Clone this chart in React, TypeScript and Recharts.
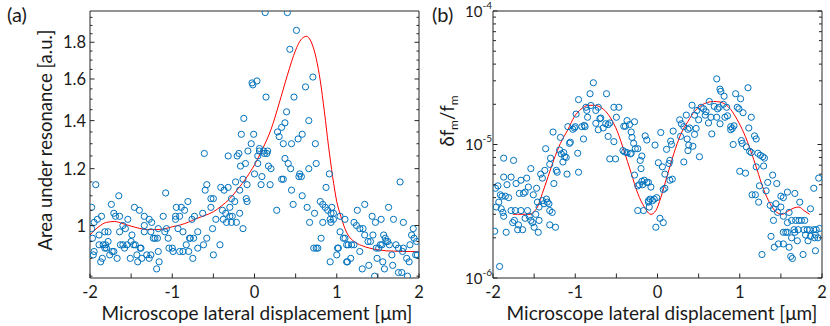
import React from 'react';
import { ComposedChart, Scatter, Line, XAxis, YAxis } from 'recharts';

const FONT = 'Lato, "Open Sans", Arial, sans-serif';
const AXIS = '#262626';
const TEXT = '#1a1a1a';
const BLUE = '#0072BD';
const RED = '#FF0000';

// ---------- shared x axis ----------
const xTicks = [-2, -1.5, -1, -0.5, 0, 0.5, 1, 1.5, 2];
const xMajor = [-2, -1, 0, 1, 2];
const xDomain: [number, number] = [-2, 2];
const xLabel = 'Microscope lateral displacement [\u03bcm]';

// ---------- panel (a) ----------
const aYDomain: [number, number] = [0.845, 1.99];
const aYTicks = [0.85, 0.9, 0.95, 1, 1.05, 1.1, 1.15, 1.2, 1.25, 1.3, 1.35, 1.4, 1.45, 1.5, 1.55, 1.6, 1.65, 1.7, 1.75, 1.8, 1.85, 1.9, 1.95];
const aYMajor = [1, 1.2, 1.4, 1.6, 1.8];
const aYLabel = 'Area under resonance [a.u.]';

const aMeasured: [number, number][] = [
  [-1.98, 1.06], [-1.93, 1.14], [-1.98, 0.99], [-1.95, 1.01], [-1.91, 1.02], [-1.86, 1.03], [-1.97, 0.96], [-1.95, 0.92],
  [-1.96, 0.91], [-1.87, 0.89], [-1.85, 0.9], [-1.82, 0.98], [-1.78, 0.98], [-1.89, 0.97], [-1.89, 0.94], [-1.84, 0.94],
  [-1.81, 0.94], [-1.78, 0.95], [-1.82, 0.93], [-1.8, 0.93], [-1.76, 0.91], [-1.73, 0.92], [-1.71, 0.92], [-1.74, 1.07],
  [-1.71, 1.04], [-1.69, 1.03], [-1.67, 0.9], [-1.65, 1.1], [-1.64, 1.03], [-1.63, 0.94], [-1.6, 0.94], [-1.58, 0.93],
  [-1.55, 0.94], [-1.64, 0.98], [-1.6, 1.0], [-1.57, 0.99], [-1.54, 1.02], [-1.51, 0.9], [-1.49, 0.97], [-1.5, 0.95],
  [-1.46, 1.06], [-1.47, 0.94], [-1.45, 0.94], [-1.43, 0.91], [-1.42, 0.89], [-1.4, 1.05], [-1.39, 0.93], [-1.38, 0.93],
  [-1.37, 0.9], [-1.34, 1.0], [-1.34, 0.98], [-1.34, 1.03], [-1.31, 0.91], [-1.28, 0.9], [-1.26, 0.91], [-1.28, 1.02],
  [-1.25, 1.01], [-1.26, 0.98], [-1.23, 0.96], [-1.21, 0.96], [-1.18, 0.96], [-1.17, 0.99], [-1.17, 0.92], [-1.16, 0.89],
  [-1.19, 0.87], [-1.11, 1.03], [-1.09, 0.98], [-1.07, 0.99], [-1.08, 1.11], [-1.05, 0.96], [-1.04, 0.93], [-1.0, 0.93],
  [-0.99, 0.92], [-0.96, 1.03], [-0.96, 1.02], [-0.95, 1.06], [-0.89, 1.06], [-0.93, 0.99], [-0.91, 1.03], [-0.87, 0.98],
  [-0.85, 1.05], [-0.81, 1.08], [-0.91, 0.92], [-0.87, 0.92], [-0.83, 0.94], [-0.79, 0.96], [-0.78, 0.96], [-0.8, 0.92],
  [-0.76, 1.02], [-0.75, 0.9], [-0.73, 1.03], [-0.74, 0.96], [-0.69, 0.98], [-0.69, 0.93],
  [-0.63, 1.04], [-0.61, 1.26], [-0.6, 1.12], [-0.58, 1.14], [-0.58, 0.96], [-0.62, 0.94], [-0.53, 1.09], [-0.5, 1.09],
  [-0.53, 1.06], [-0.51, 0.99], [-0.5, 0.91], [-0.47, 1.02], [-0.42, 0.94], [-0.41, 1.13], [-0.39, 1.05], [-0.37, 1.12],
  [-0.38, 1.02], [-0.35, 1.04], [-0.34, 1.01], [-0.32, 1.13], [-0.32, 1.25], [-0.3, 1.03], [-0.3, 1.06], [-0.28, 1.09],
  [-0.28, 1.01], [-0.27, 1.03], [-0.24, 1.08], [-0.23, 1.15], [-0.21, 1.25], [-0.19, 1.26], [-0.22, 1.01], [-0.18, 1.12],
  [-0.18, 1.04], [-0.17, 1.21], [-0.16, 1.34], [-0.14, 0.99], [-0.13, 1.41], [-0.14, 1.16], [-0.11, 1.22], [-0.1, 1.09],
  [-0.09, 1.14], [-0.09, 1.08], [-0.08, 1.27], [-0.04, 1.3], [-0.03, 1.58], [-0.02, 1.57], [-0.01, 1.34], [0.0, 1.18],
  [0.03, 1.59], [0.04, 1.22], [0.04, 1.25], [0.06, 1.27], [0.06, 1.28], [0.09, 1.17], [0.08, 1.14], [0.11, 1.27], [0.12, 1.26],
  [0.13, 1.98], [0.4, 1.98], [0.51, 1.87], [0.43, 1.76], [0.71, 1.61], [0.62, 1.56], [0.14, 1.51], [0.48, 1.51],
  [0.39, 1.44], [0.66, 1.4], [0.37, 1.39], [0.33, 1.37], [0.58, 1.34], [0.28, 1.35], [0.3, 1.33], [0.35, 1.3],
  [0.45, 1.3], [0.53, 1.32], [0.74, 1.3], [0.15, 1.26], [0.16, 1.27], [0.37, 1.24], [0.41, 1.22], [0.75, 1.22],
  [0.17, 1.21], [0.2, 1.2], [0.66, 1.2], [0.44, 1.2], [0.55, 1.18], [0.54, 1.17], [0.57, 1.17], [0.91, 1.18],
  [0.33, 1.16], [0.35, 1.16], [0.19, 1.14], [0.87, 1.13], [0.45, 1.12], [0.58, 1.1], [0.8, 1.08], [0.83, 1.07],
  [0.86, 1.06], [0.27, 1.05], [0.47, 1.07], [0.64, 1.06], [0.73, 1.04], [0.89, 1.05], [0.93, 1.04], [0.96, 1.04],
  [0.94, 1.06], [1.04, 1.03], [0.92, 1.02], [0.96, 1.02], [0.67, 1.01], [0.83, 1.01], [1.1, 1.02], [0.93, 1.01],
  [1.04, 0.98], [0.81, 0.96], [0.72, 0.93], [0.77, 0.93], [0.75, 0.93], [0.92, 0.89], [1.01, 0.93], [1.02, 0.93],
  [1.08, 0.96], [1.1, 0.96], [1.0, 0.91], [1.12, 0.94], [1.14, 0.94], [1.12, 0.89], [1.13, 0.89], [1.18, 0.94],
  [1.21, 0.94], [1.17, 0.9], [1.21, 1.01], [1.24, 1.0], [1.25, 1.05], [1.28, 0.99], [1.34, 1.07], [1.32, 0.99],
  [1.34, 0.97], [1.28, 0.92], [1.31, 0.87], [1.38, 0.95], [1.41, 0.95], [1.39, 0.88], [1.46, 0.85], [1.44, 0.97],
  [1.43, 1.03], [1.47, 1.01], [1.48, 0.93], [1.51, 0.93], [1.49, 0.9], [1.54, 1.02], [1.53, 0.94], [1.55, 0.94],
  [1.57, 0.97], [1.59, 0.96], [1.6, 0.95], [1.62, 0.95], [1.56, 0.89], [1.58, 0.87], [1.63, 1.06], [1.64, 0.94],
  [1.67, 0.91], [1.68, 0.88], [1.69, 1.02], [1.72, 0.94], [1.75, 0.93], [1.75, 0.86], [1.79, 0.86], [1.77, 1.15],
  [1.81, 1.01], [1.8, 0.92], [1.81, 0.93], [1.86, 0.85], [1.85, 0.9], [1.88, 0.89], [1.91, 0.97], [1.93, 0.99],
  [1.94, 0.96], [1.97, 0.95], [1.96, 0.91], [1.98, 0.91], [1.89, 0.94],
];

const aFitX = [-2, -1.9, -1.8, -1.7, -1.6, -1.5, -1.4, -1.3, -1.2, -1.1, -1.0, -0.9, -0.8, -0.7, -0.6, -0.5, -0.4, -0.3, -0.2, -0.1, 0, 0.1, 0.2, 0.3, 0.4, 0.5, 0.55, 0.6, 0.63, 0.67, 0.7, 0.75, 0.8, 0.85, 0.9, 0.95, 1.0, 1.05, 1.1, 1.15, 1.2, 1.3, 1.4, 1.5, 1.6, 1.7, 1.8, 1.9, 2.0];
const aFitY = [0.97, 0.995, 1.01, 1.013, 1.006, 0.998, 0.991, 0.987, 0.987, 0.989, 0.996, 1.002, 1.011, 1.023, 1.033, 1.045, 1.065, 1.09, 1.125, 1.165, 1.215, 1.28, 1.36, 1.48, 1.62, 1.755, 1.805, 1.83, 1.835, 1.82, 1.79, 1.71, 1.59, 1.44, 1.29, 1.17, 1.08, 1.03, 0.99, 0.965, 0.952, 0.938, 0.93, 0.925, 0.922, 0.921, 0.92, 0.92, 0.919];

// ---------- panel (b) ----------
const bYDomain: [number, number] = [1e-6, 1e-4];
const bYTicks = [1e-6, 2e-6, 3e-6, 4e-6, 5e-6, 6e-6, 7e-6, 8e-6, 9e-6, 1e-5, 2e-5, 3e-5, 4e-5, 5e-5, 6e-5, 7e-5, 8e-5, 9e-5, 1e-4];
const bYMajor = [1e-6, 1e-5, 1e-4];
const bYExponents = ['-6', '-5', '-4'];

const bMeasured: [number, number][] = [
  [-1.92, 1.22e-6], [-1.98, 2.24e-6], [-1.97, 4.7e-6], [-1.94, 4.9e-6], [-1.96, 3.4e-6], [-1.93, 3.7e-6], [-1.91, 4.2e-6], [-1.89, 4.1e-6],
  [-1.9, 3.3e-6], [-1.88, 3.1e-6], [-1.87, 2.9e-6], [-1.87, 5.7e-6], [-1.87, 7.9e-6], [-1.84, 2.2e-6], [-1.83, 5.0e-6], [-1.85, 4.1e-6],
  [-1.81, 4.0e-6], [-1.78, 5.7e-6], [-1.78, 3.2e-6], [-1.75, 7.6e-6], [-1.76, 2.6e-6], [-1.74, 2.7e-6], [-1.73, 3.2e-6], [-1.72, 5.1e-6],
  [-1.7, 2.3e-6], [-1.69, 2.5e-6], [-1.68, 4.3e-6], [-1.66, 5.4e-6], [-1.66, 3.2e-6], [-1.64, 2.3e-6], [-1.63, 4.3e-6], [-1.61, 4.4e-6],
  [-1.61, 2.8e-6], [-1.59, 5.6e-6], [-1.57, 4.8e-6], [-1.58, 3.2e-6], [-1.56, 2.9e-6], [-1.54, 6.6e-6], [-1.54, 2.7e-6], [-1.52, 2.6e-6],
  [-1.51, 4.2e-6], [-1.5, 2.4e-6], [-1.48, 3.0e-6], [-1.47, 4.7e-6], [-1.46, 3.7e-6], [-1.45, 2.2e-6], [-1.44, 3.4e-6], [-1.44, 2.7e-6],
  [-1.42, 6.0e-6], [-1.4, 5.6e-6], [-1.4, 3.8e-6], [-1.38, 3.6e-6], [-1.36, 9.3e-6], [-1.37, 6.4e-6], [-1.35, 3.9e-6], [-1.34, 3.7e-6],
  [-1.32, 3.6e-6], [-1.31, 3.2e-6], [-1.31, 2.5e-6], [-1.3, 7.9e-6], [-1.31, 7.1e-6], [-1.28, 3.1e-6], [-1.27, 1.24e-5], [-1.26, 5.1e-6],
  [-1.24, 2.4e-6], [-1.23, 6.4e-6], [-1.22, 6.2e-6], [-1.19, 9.1e-6], [-1.18, 1.13e-5], [-1.17, 8.5e-6], [-1.14, 8.7e-6], [-1.15, 7.4e-6],
  [-1.13, 8.1e-6], [-1.11, 8.0e-6], [-1.1, 6.0e-6], [-1.09, 1.36e-5], [-1.07, 1.02e-5], [-1.06, 1.04e-5], [-1.03, 1.3e-5], [-1.01, 1.33e-5],
  [-1.0, 1.36e-5], [-0.99, 1.69e-5], [-0.97, 8.6e-6], [-0.96, 2.17e-5], [-0.96, 6.2e-6], [-0.92, 1.36e-5], [-0.9, 1.1e-5], [-0.89, 1.39e-5],
  [-0.88, 1.36e-5], [-0.87, 1.9e-5], [-0.86, 1.8e-5], [-0.85, 1.6e-5], [-0.82, 2.4e-5], [-0.81, 1.96e-5], [-0.78, 2.9e-5], [-0.75, 1.8e-5],
  [-0.72, 1.9e-5], [-0.75, 1.44e-5], [-0.72, 1.29e-5], [-0.7, 1.56e-5], [-0.69, 1.58e-5],
  [-0.62, 2.4e-5], [-0.66, 1.33e-5], [-0.63, 1.43e-5], [-0.6, 1.41e-5], [-0.58, 1.45e-5], [-0.6, 1.15e-5], [-0.53, 1.9e-5], [-0.47, 1.9e-5],
  [-0.5, 1.6e-5], [-0.58, 7.8e-6], [-0.51, 7.8e-6], [-0.53, 1.05e-5], [-0.41, 1.37e-5], [-0.39, 1.37e-5], [-0.37, 1.51e-5], [-0.34, 1.41e-5],
  [-0.28, 1.48e-5], [-0.32, 1.24e-5], [-0.31, 1.13e-5], [-0.29, 1.02e-5], [-0.42, 9.0e-6], [-0.4, 8.8e-6], [-0.37, 8.7e-6], [-0.32, 8.6e-6],
  [-0.33, 8.5e-6], [-0.27, 9.3e-6], [-0.24, 9.3e-6], [-0.21, 7.6e-6], [-0.2, 6.6e-6], [-0.19, 8.2e-6], [-0.28, 5.9e-6], [-0.24, 4.9e-6],
  [-0.22, 5.0e-6], [-0.19, 5.3e-6], [-0.16, 5.4e-6], [-0.13, 5.2e-6], [-0.11, 5.2e-6], [-0.18, 5.0e-6], [-0.08, 4.8e-6], [-0.15, 1.16e-5],
  [-0.13, 1.08e-5], [-0.03, 9.9e-6], [0.04, 1.23e-5], [0.01, 7.3e-6], [0.06, 6.8e-6], [-0.11, 3.8e-6], [-0.09, 3.9e-6], [-0.06, 3.8e-6],
  [-0.04, 3.9e-6], [-0.11, 3.7e-6], [-0.01, 4.0e-6], [-0.24, 3.2e-6], [-0.17, 3.2e-6], [-0.1, 3.4e-6], [-0.02, 2.4e-6], [0.03, 2.8e-6],
  [0.07, 2.6e-6], [0.07, 4.6e-6], [0.09, 4.7e-6], [0.09, 6.0e-6], [0.11, 9.2e-6], [0.14, 7.2e-6], [0.15, 7.6e-6], [0.15, 5.4e-6],
  [0.18, 5.5e-6], [0.16, 1.06e-5], [0.19, 1.26e-5], [0.17, 1.0e-5], [0.27, 1.53e-5], [0.29, 1.43e-5], [0.32, 1.36e-5], [0.28, 1.15e-5],
  [0.32, 7.4e-6], [0.35, 1.66e-5], [0.37, 1.3e-5], [0.39, 1.33e-5], [0.36, 1.1e-5], [0.38, 9.9e-6], [0.37, 9.0e-6], [0.43, 9.7e-6],
  [0.42, 1.97e-5], [0.45, 1.66e-5], [0.47, 1.32e-5], [0.45, 1.19e-5], [0.51, 8.1e-6], [0.48, 1.8e-5], [0.53, 1.9e-5], [0.5, 1.53e-5],
  [0.56, 1.85e-5], [0.59, 1.76e-5], [0.58, 1.66e-5], [0.62, 1.45e-5], [0.65, 1.6e-5], [0.63, 2.1e-5], [0.66, 1.2e-5],
  [0.72, 3.1e-5], [0.76, 2.6e-5], [0.77, 2.5e-5], [0.81, 2.3e-5], [0.69, 1.93e-5], [0.73, 1.85e-5], [0.75, 1.9e-5], [0.72, 1.6e-5],
  [0.8, 2.0e-5], [0.84, 1.9e-5], [0.82, 1.6e-5], [0.85, 1.64e-5], [0.76, 1.43e-5], [0.89, 1.36e-5], [0.91, 1.32e-5], [0.93, 1.38e-5],
  [0.89, 1.29e-5], [0.92, 1.0e-5], [0.95, 2.4e-5], [0.97, 1.9e-5], [0.99, 1.85e-5], [1.01, 2.2e-5], [1.04, 1.73e-5], [1.1, 2.66e-5],
  [1.14, 1.6e-5], [1.11, 1.33e-5], [1.02, 1.07e-5], [1.03, 1.02e-5], [1.08, 9.6e-6], [1.12, 8.9e-6], [1.14, 8.7e-6], [1.18, 1.16e-5],
  [1.2, 1.1e-5], [1.22, 8.6e-6], [1.25, 8.3e-6], [1.28, 8.1e-6], [1.3, 7.9e-6], [1.2, 6.8e-6], [1.29, 6.9e-6], [1.0, 6.3e-6],
  [1.07, 6.1e-6], [1.4, 5.9e-6], [1.34, 5.2e-6], [1.24, 4.9e-6], [1.32, 4.5e-6], [1.15, 4.2e-6], [1.19, 4.2e-6], [1.23, 3.7e-6],
  [1.45, 5.1e-6], [1.37, 3.5e-6], [1.41, 3.3e-6], [1.44, 3.6e-6], [1.5, 4.1e-6], [1.53, 4.0e-6], [1.58, 4.4e-6], [1.67, 4.3e-6],
  [1.73, 3.7e-6], [1.5, 3.4e-6], [1.46, 3.1e-6], [1.41, 2.7e-6], [1.53, 2.9e-6], [1.6, 3.1e-6], [1.58, 2.6e-6], [1.63, 2.7e-6],
  [1.68, 2.7e-6], [1.72, 2.7e-6], [1.75, 2.7e-6], [1.79, 2.7e-6], [1.66, 2.3e-6], [1.53, 2.2e-6], [1.56, 2.2e-6], [1.58, 2.2e-6],
  [1.67, 2.2e-6], [1.71, 2.3e-6], [1.78, 2.3e-6], [1.82, 2.3e-6], [1.85, 2.3e-6], [1.9, 2.3e-6], [1.93, 2.3e-6], [1.97, 2.35e-6],
  [1.8, 2.1e-6], [1.86, 2.05e-6], [1.92, 2.1e-6], [1.95, 2.0e-6], [1.63, 2.0e-6], [1.7, 1.9e-6], [1.83, 1.9e-6], [1.91, 2.0e-6],
  [1.38, 2.05e-6], [1.42, 1.7e-6], [1.47, 1.8e-6], [1.53, 1.8e-6], [1.6, 1.7e-6], [1.62, 1.45e-6], [1.64, 1.4e-6], [1.77, 1.5e-6],
  [1.27, 1.5e-6], [1.92, 1.6e-6], [1.9, 4.7e-6], [1.96, 5.6e-6], [1.86, 3.3e-6],
];

const bFitX = [-1.76, -1.7, -1.6, -1.55, -1.5, -1.46, -1.4, -1.33, -1.26, -1.18, -1.09, -1.01, -0.93, -0.85, -0.78, -0.69, -0.57, -0.49, -0.41, -0.32, -0.24, -0.16, -0.08, -0.02, 0.04, 0.12, 0.2, 0.28, 0.37, 0.45, 0.53, 0.61, 0.68, 0.76, 0.89, 0.97, 1.05, 1.13, 1.21, 1.29, 1.37, 1.45, 1.52, 1.58, 1.66, 1.72, 1.78, 1.85];
const bFitY = [3.0e-6, 3.0e-6, 3.0e-6, 3.0e-6, 3.15e-6, 3.4e-6, 4.3e-6, 5.75e-6, 7.7e-6, 1.02e-5, 1.29e-5, 1.62e-5, 1.84e-5, 1.96e-5, 1.97e-5, 1.9e-5, 1.58e-5, 1.26e-5, 9.1e-6, 6.1e-6, 4.3e-6, 3.4e-6, 3.0e-6, 3.2e-6, 4.0e-6, 5.9e-6, 8.6e-6, 1.18e-5, 1.49e-5, 1.77e-5, 1.96e-5, 2.07e-5, 2.1e-5, 2.08e-5, 1.83e-5, 1.53e-5, 1.22e-5, 9.1e-6, 6.5e-6, 4.6e-6, 3.6e-6, 3.1e-6, 3.0e-6, 3.15e-6, 3.35e-6, 3.4e-6, 3.2e-6, 3.0e-6];

// ---------- helpers ----------
const toPts = (arr: [number, number][]) => arr.map(([x, y]) => ({ x, y }));
const zip = (xs: number[], ys: number[]) => xs.map((x, i) => ({ x, y: ys[i] }));
const isIn = (v: number, list: number[]) => list.some((m) => Math.abs(m - v) <= 1e-6 * Math.max(Math.abs(m), 1e-12));

const MAJOR_LEN = 4.5;
const MINOR_LEN = 2.5;

const BottomTick = (p: any) => {
  const v = p.payload.value;
  const major = isIn(v, xMajor) || v === 0;
  return (
    <g>
      <line x1={p.x} y1={p.y} x2={p.x} y2={p.y - MAJOR_LEN} stroke={AXIS} strokeWidth={1} />
      {major && (
        <text x={p.x} y={p.y + 20} textAnchor="middle" fontSize={16.5} fontFamily={FONT} fill={TEXT}>
          {String(v)}
        </text>
      )}
    </g>
  );
};

const TopTick = (p: any) => (
  <line x1={p.x} y1={p.y} x2={p.x} y2={p.y + MAJOR_LEN} stroke={AXIS} strokeWidth={1} />
);

const makeLeftTickA = (p: any) => {
  const v = p.payload.value;
  const major = isIn(v, aYMajor);
  return (
    <g>
      <line x1={p.x} y1={p.y} x2={p.x + (major ? MAJOR_LEN : MINOR_LEN)} y2={p.y} stroke={AXIS} strokeWidth={1} />
      {major && (
        <text x={p.x - 4} y={p.y + 6} textAnchor="end" fontSize={16.5} fontFamily={FONT} fill={TEXT}>
          {String(v)}
        </text>
      )}
    </g>
  );
};

const makeRightTickA = (p: any) => {
  const v = p.payload.value;
  const major = isIn(v, aYMajor);
  return <line x1={p.x} y1={p.y} x2={p.x - (major ? MAJOR_LEN : MINOR_LEN)} y2={p.y} stroke={AXIS} strokeWidth={1} />;
};

const makeLeftTickB = (p: any) => {
  const v = p.payload.value;
  const idx = bYMajor.findIndex((m) => Math.abs(m - v) <= 1e-6 * m);
  const major = idx >= 0;
  return (
    <g>
      <line x1={p.x} y1={p.y} x2={p.x + (major ? MAJOR_LEN : MINOR_LEN + 0.5)} y2={p.y} stroke={AXIS} strokeWidth={1} />
      {major && (
        <text x={p.x - 1} y={p.y + 5.5} textAnchor="end" fontSize={15} fontFamily={FONT} fill={TEXT}>
          <tspan>10</tspan>
          <tspan dy={-8} fontSize={10}>{bYExponents[idx]}</tspan>
        </text>
      )}
    </g>
  );
};

const makeRightTickB = (p: any) => {
  const v = p.payload.value;
  const major = bYMajor.some((m) => Math.abs(m - v) <= 1e-6 * m);
  return <line x1={p.x} y1={p.y} x2={p.x - (major ? MAJOR_LEN : MINOR_LEN + 0.5)} y2={p.y} stroke={AXIS} strokeWidth={1} />;
};

const OpenCircle = (p: any) => {
  if (p.cx == null || p.cy == null) return <g />;
  return <circle cx={p.cx} cy={p.cy} r={3.1} fill="none" stroke={BLUE} strokeWidth={1} />;
};

type PanelProps = {
  left: number;
  width: number;
  yWidth: number;
  rWidth: number;
  yDomain: [number, number];
  yTicks: number[];
  leftTick: any;
  rightTick: any;
  pts: { x: number; y: number }[];
  fit: { x: number; y: number }[];
};

const Panel = ({ left, width, yWidth, rWidth, yDomain, yTicks, leftTick, rightTick, pts, fit }: PanelProps) => (
  <div style={{ position: 'absolute', left, top: 0 }}>
    <ComposedChart width={width} height={326} margin={{ top: 0, right: 0, bottom: 0, left: 0 }}>
      <XAxis
        xAxisId="b"
        dataKey="x"
        type="number"
        domain={xDomain}
        ticks={xTicks}
        interval={0}
        height={48}
        tickSize={0}
        tickMargin={0}
        tickLine={false}
        tick={BottomTick}
        axisLine={{ stroke: AXIS, strokeWidth: 1 }}
        allowDataOverflow
      />
      <XAxis
        xAxisId="t"
        orientation="top"
        type="number"
        domain={xDomain}
        ticks={xTicks}
        interval={0}
        height={11}
        tickSize={0}
        tickMargin={0}
        tickLine={false}
        tick={TopTick}
        axisLine={{ stroke: AXIS, strokeWidth: 1 }}
        allowDataOverflow
      />
      <YAxis
        yAxisId="l"
        dataKey="y"
        type="number"
        scale="log"
        domain={yDomain}
        ticks={yTicks}
        interval={0}
        width={yWidth}
        tickSize={0}
        tickMargin={0}
        tickLine={false}
        tick={leftTick}
        axisLine={{ stroke: AXIS, strokeWidth: 1 }}
        allowDataOverflow
      />
      <YAxis
        yAxisId="r"
        orientation="right"
        type="number"
        scale="log"
        domain={yDomain}
        ticks={yTicks}
        interval={0}
        width={rWidth}
        tickSize={0}
        tickMargin={0}
        tickLine={false}
        tick={rightTick}
        axisLine={{ stroke: AXIS, strokeWidth: 1 }}
        allowDataOverflow
      />
      <Scatter xAxisId="b" yAxisId="l" data={pts} dataKey="y" shape={OpenCircle} isAnimationActive={false} />
      <Line
        xAxisId="b"
        yAxisId="l"
        data={fit}
        dataKey="y"
        type="monotone"
        stroke={RED}
        strokeWidth={1}
        dot={false}
        activeDot={false}
        isAnimationActive={false}
      />
    </ComposedChart>
  </div>
);

export default function App() {
  return (
    <div style={{ position: 'absolute', left: 0, top: 0, width: 830, height: 326, background: '#fff', overflow: 'hidden' }}>
      <Panel
        left={0}
        width={430}
        yWidth={90}
        rWidth={11}
        yDomain={aYDomain}
        yTicks={aYTicks}
        leftTick={makeLeftTickA}
        rightTick={makeRightTickA}
        pts={toPts(aMeasured)}
        fit={zip(aFitX, aFitY)}
      />
      <Panel
        left={420}
        width={410}
        yWidth={73}
        rWidth={8}
        yDomain={bYDomain}
        yTicks={bYTicks}
        leftTick={makeLeftTickB}
        rightTick={makeRightTickB}
        pts={toPts(bMeasured)}
        fit={zip(bFitX, bFitY)}
      />
      <svg width={830} height={326} style={{ position: 'absolute', left: 0, top: 0, pointerEvents: 'none' }}>
        <g fontFamily={FONT} fill={TEXT}>
          <text x={7} y={22} fontSize={20}>(a)</text>
          <text x={432} y={22} fontSize={20}>(b)</text>
          <text x={257} y={320} fontSize={19} textAnchor="middle">{xLabel}</text>
          <text x={662} y={320} fontSize={19} textAnchor="middle">{xLabel}</text>
          <text x={52} y={140} fontSize={18.5} textAnchor="middle" transform="rotate(-90 52 140)">{aYLabel}</text>
          <text x={454} y={121} fontSize={18.5} textAnchor="middle" transform="rotate(-90 454 121)">
            <tspan>{'\u03b4f'}</tspan>
            <tspan fontSize={12} dy={4}>m</tspan>
            <tspan dy={-4}>/f</tspan>
            <tspan fontSize={12} dy={4}>m</tspan>
          </text>
        </g>
      </svg>
    </div>
  );
}
